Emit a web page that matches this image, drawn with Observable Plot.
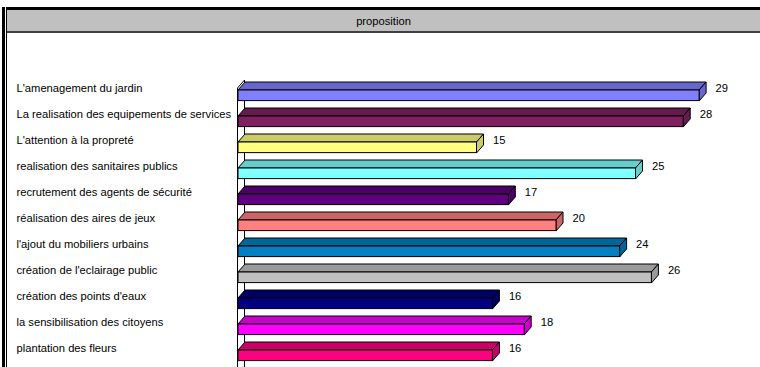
<!DOCTYPE html>
<html>
<head>
<meta charset="utf-8">
<script src="https://cdn.jsdelivr.net/npm/d3@7"></script>
<script src="https://cdn.jsdelivr.net/npm/@observablehq/plot@0.6"></script>
<style>
  html, body { margin: 0; padding: 0; background: #fff; overflow: hidden; width: 760px; height: 367px; }
  #wrap { position: relative; width: 760px; height: 367px; overflow: hidden; font-family: "Liberation Sans", Arial, sans-serif; }
  #outerL { position: absolute; left: 2px; top: 7px; width: 3px; height: 360px; background: #000; }
  #innerL { position: absolute; left: 6px; top: 7px; width: 1px; height: 360px; background: #000; }
  #topbar { position: absolute; left: 6px; top: 7px; width: 754px; height: 3px; background: #000; }
  #title { position: absolute; left: 7px; top: 10px; width: 753px; height: 21px; background: #c0c0c0; border-bottom: 2px solid #404040;
           text-align: center; font-size: 11.2px; line-height: 23px; color: #000; z-index: 5; }
  #chart { position: absolute; left: 0; top: 0; width: 760px; height: 367px; }
  #chart svg { display: block; }
</style>
</head>
<body>
<div id="wrap">
  <div id="outerL"></div>
  <div id="innerL"></div>
  <div id="topbar"></div>
  <div id="chart"></div>
  <div id="title">proposition</div>
</div>
<script>
const categories = [
  "L'amenagement du jardin",
  "La realisation des equipements de services",
  "L'attention à la propreté",
  "realisation des sanitaires publics",
  "recrutement des agents de sécurité",
  "réalisation des aires de jeux",
  "l'ajout du mobiliers urbains",
  "création de l'eclairage public",
  "création des points d'eaux",
  "la sensibilisation des citoyens",
  "plantation des fleurs"
];
const values = [29, 28, 15, 25, 17, 20, 24, 26, 16, 18, 16];
const frontColors = ["#8080FF", "#802060", "#FFFF80", "#80FFFF", "#600080", "#FF8080", "#0080C0", "#C0C0C0", "#000080", "#FF00FF", "#FF0080"];
const topColors   = ["#6666CC", "#661A4D", "#CCCC66", "#66CCCC", "#4D0066", "#CC6666", "#00669A", "#9A9A9A", "#000066", "#CC00CC", "#CC0066"];

const data = categories.map((c, i) => ({cat: c, value: values[i], front: frontColors[i], top: topColors[i]}));

const DX = 7, DY = 8, FRONT_OFF = 12, FRONT_H = 11;

function wall(index, scales, values, dimensions) {
  const x0 = scales.x(0);
  const ft0 = scales.y(categories[0]) + FRONT_OFF;
  const g = d3.create("svg:g");
  g.append("path")
    .attr("d", `M${x0 - 0.5},${dimensions.height} V${ft0 - 2} L${x0 + DX - 0.5},${ft0 - 2 - DY} V${dimensions.height}`)
    .attr("fill", "none").attr("stroke", "#000").attr("stroke-width", 1);
  return g.node();
}

function faces(index, scales, values, dimensions) {
  const g = d3.create("svg:g");
  for (const d of data) {
    const x0 = scales.x(0), x1 = scales.x(d.value);
    const ft = scales.y(d.cat) + FRONT_OFF, fb = ft + FRONT_H;
    g.append("polygon")
      .attr("points", [[x0, ft], [x1, ft], [x1 + DX, ft - DY], [x0 + DX, ft - DY]].join(" "))
      .attr("fill", d.top).attr("stroke", "#000").attr("stroke-width", 1).attr("stroke-linejoin", "round");
    g.append("polygon")
      .attr("points", [[x1, ft], [x1 + DX, ft - DY], [x1 + DX, fb - DY], [x1, fb]].join(" "))
      .attr("fill", d.top).attr("stroke", "#000").attr("stroke-width", 1).attr("stroke-linejoin", "round");
  }
  return g.node();
}

const chart = Plot.plot({
  width: 760,
  height: 367,
  marginLeft: 238,
  marginRight: 13.2,
  marginTop: 75.5,
  marginBottom: 1.1,
  x: {domain: [0, 32], axis: null},
  y: {domain: categories, padding: 0, axis: null},
  color: {type: "identity"},
  style: {fontFamily: "'Liberation Sans', Arial, sans-serif", fontSize: "11.2px", background: "transparent", color: "#000"},
  marks: [
    wall,
    faces,
    Plot.barX(data, {x: "value", y: "cat", fill: "front", stroke: "#000", strokeWidth: 1, insetTop: FRONT_OFF, insetBottom: 26.4 - FRONT_OFF - FRONT_H}),
    Plot.text(data, {x: "value", y: "cat", text: d => String(d.value), textAnchor: "start", dx: 16, dy: -3, fill: "#000", fontSize: 11.2}),
    Plot.axisY({tickSize: 0, tickPadding: 0, textAnchor: "start", dx: 16 - 238, dy: -3, fontSize: 11.2, fill: "#000", label: null})
  ]
});
document.getElementById("chart").appendChild(chart);
</script>
</body>
</html>
